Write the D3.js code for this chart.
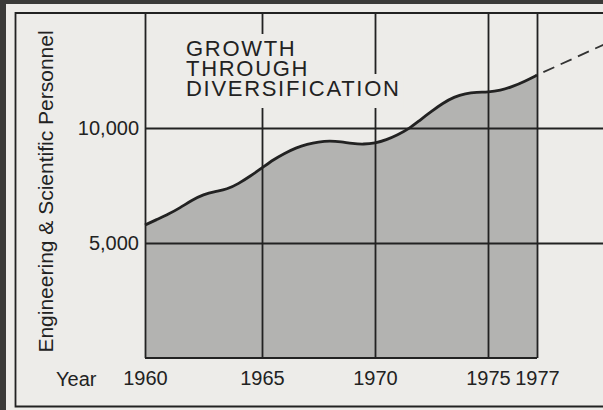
<!DOCTYPE html>
<html>
<head>
<meta charset="utf-8">
<script src="https://cdn.jsdelivr.net/npm/d3@7"></script>
<style>
  html, body { margin: 0; padding: 0; background: #edece9; }
  svg { display: block; }
  text { font-family: "Liberation Sans", Arial, Helvetica, sans-serif; fill: #222; }
</style>
</head>
<body>
<svg id="chart" width="603" height="410"></svg>
<script>
// Engineering & scientific personnel, 1960-1977 (half-year readings)
const years = [
  1960, 1960.5, 1961, 1961.5, 1962, 1962.5, 1963, 1963.5, 1964, 1964.5,
  1965, 1965.5, 1966, 1966.5, 1967, 1967.5, 1968, 1968.5, 1969, 1969.5,
  1970, 1970.5, 1971, 1971.5, 1972, 1972.5, 1973, 1973.5, 1974, 1974.5,
  1975, 1975.5, 1976, 1976.5, 1977
];
const personnel = [
  5780, 6020, 6250, 6530, 6860, 7110, 7240, 7330, 7580, 7910,
  8260, 8620, 8900, 9140, 9300, 9400, 9440, 9400, 9320, 9290,
  9340, 9480, 9700, 9960, 10350, 10720, 11080, 11350, 11500, 11560,
  11560, 11630, 11800, 12030, 12300
];
// Projected trend beyond 1977
const projYears = [1977, 1980];
const projValues = [12300, 13750];

const yearTicks = [1960, 1965, 1970, 1975, 1977];
const valueTicks = [5000, 10000];
const titleLines = ["GROWTH", "THROUGH", "DIVERSIFICATION"];
const yLabel = "Engineering & Scientific Personnel";
const xLabel = "Year";

const W = 603, H = 410;
const BG = "#edece9";
const svg = d3.select("#chart");

// year axis as drawn on the original grid (slightly uneven spacing)
const x = d3.scaleLinear()
  .domain([1960, 1965, 1970, 1975, 1977, 1980])
  .range([145, 262, 375, 488, 537, 610]);
const y = d3.scaleLinear().domain([0, 15000]).range([358, 13]);

const series = years.map((yr, i) => ({ yr, v: personnel[i] }));
const proj = projYears.map((yr, i) => ({ yr, v: projValues[i] }));

// page background and dark outer edge
svg.append("rect").attr("width", W).attr("height", H).attr("fill", BG);
svg.append("rect").attr("x", 0).attr("y", 0).attr("width", 6).attr("height", H).attr("fill", "#3a3a38");
svg.append("rect").attr("x", 0).attr("y", 0).attr("width", W).attr("height", 4).attr("fill", "#3a3a38");

// shaded area under the curve
const curve = d3.curveBasis;
const area = d3.area()
  .x(d => x(d.yr)).y0(y(0)).y1(d => y(d.v))
  .curve(curve);
svg.append("path").datum(series)
  .attr("d", area)
  .attr("fill", "#b3b3b1");

// vertical grid + year labels
const xAxis = svg.append("g")
  .attr("transform", `translate(0,${y(0)})`)
  .call(d3.axisBottom(x)
    .tickValues(yearTicks)
    .tickFormat(d3.format("d"))
    .tickSize(-(y(0) - y(15000)))
    .tickPadding(13));
xAxis.select(".domain").remove();
xAxis.selectAll(".tick line").attr("stroke", "#222").attr("stroke-width", 1.8);
xAxis.selectAll(".tick text")
  .attr("font-size", 20)
  .attr("font-family", "Liberation Sans, Arial, sans-serif")
  .attr("fill", "#222");

// horizontal grid + value labels
const yAxis = svg.append("g")
  .attr("transform", `translate(${x(1960)},0)`)
  .call(d3.axisLeft(y)
    .tickValues(valueTicks)
    .tickFormat(d3.format(",d"))
    .tickSize(-(W - x(1960)))
    .tickPadding(6));
yAxis.select(".domain").remove();
yAxis.selectAll(".tick line").attr("stroke", "#222").attr("stroke-width", 1.8);
yAxis.selectAll(".tick text")
  .attr("font-size", 20)
  .attr("font-family", "Liberation Sans, Arial, sans-serif")
  .attr("fill", "#222");

// baseline of the plot
svg.append("line")
  .attr("x1", x(1960)).attr("x2", x(1977))
  .attr("y1", y(0)).attr("y2", y(0))
  .attr("stroke", "#222").attr("stroke-width", 1.8);

// title block, with a knocked-out background behind each line
const tx = 186, tBase = 56, tLead = 20;
const titleBg = svg.append("g");
const title = svg.append("text")
  .attr("x", tx).attr("y", tBase)
  .attr("font-size", 22)
  .attr("letter-spacing", 1.7);
titleLines.forEach((line, i) => {
  const span = title.append("tspan")
    .attr("x", tx).attr("y", tBase + i * tLead)
    .text(line);
  const w = span.node().getComputedTextLength();
  titleBg.append("rect")
    .attr("x", tx - 3).attr("y", tBase + i * tLead - 22)
    .attr("width", w + 6).attr("height", 34)
    .attr("fill", BG);
});

// growth curve
const line = d3.line()
  .x(d => x(d.yr)).y(d => y(d.v))
  .curve(curve);
svg.append("path").datum(series)
  .attr("d", line)
  .attr("fill", "none")
  .attr("stroke", "#222")
  .attr("stroke-width", 2.8)
  .attr("stroke-linejoin", "round");

// projection
svg.append("path").datum(proj)
  .attr("d", d3.line().x(d => x(d.yr)).y(d => y(d.v)))
  .attr("fill", "none")
  .attr("stroke", "#333")
  .attr("stroke-width", 1.8)
  .attr("stroke-dasharray", "12 7")
  .attr("stroke-dashoffset", 12);

// axis titles
svg.append("text")
  .attr("transform", `translate(53,${(y(0) + y(15000)) / 2 + 6}) rotate(-90)`)
  .attr("text-anchor", "middle")
  .attr("font-size", 21)
  .text(yLabel);
svg.append("text")
  .attr("x", 56).attr("y", y(0) + 13 + 20 * 0.71 + 0.3)
  .attr("font-size", 20)
  .text(xLabel);

// outer frame
svg.append("path")
  .attr("d", `M${W},13 H15.5 V406.5 H${W}`)
  .attr("fill", "none")
  .attr("stroke", "#222")
  .attr("stroke-width", 1.8);
</script>
</body>
</html>
